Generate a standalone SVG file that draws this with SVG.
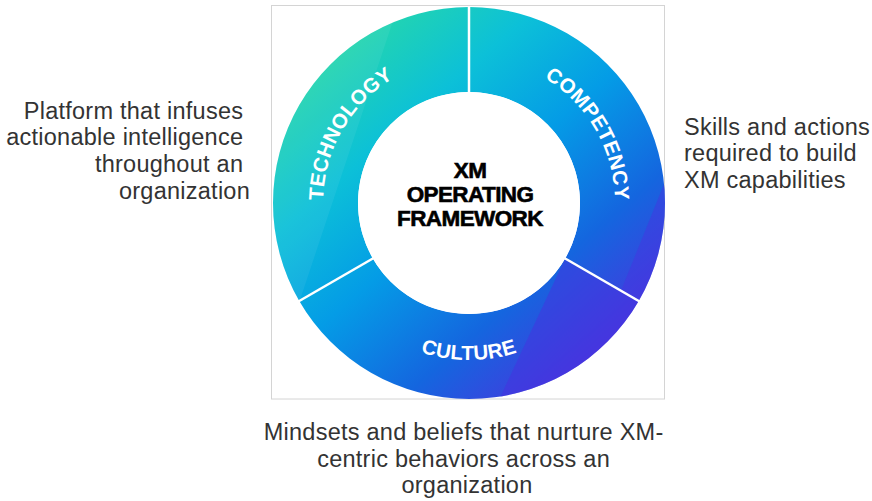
<svg xmlns="http://www.w3.org/2000/svg" width="872" height="501" viewBox="0 0 872 501">
  <defs>
    <style>
      .desc { font-family: "Liberation Sans", Arial, sans-serif; font-size: 23.5px; fill: #333333; letter-spacing: 0.25px; }
      .ring-label { font-family: "Liberation Sans", Arial, sans-serif; font-size: 20.5px; font-weight: bold; fill: #ffffff; letter-spacing: 0.3px; }
      .title { font-family: "Liberation Sans", Arial, sans-serif; font-size: 22.5px; font-weight: bold; fill: #000000; text-anchor: middle; letter-spacing: -0.6px; stroke: #000000; stroke-width: 0.6px; }
      .divider { stroke: #ffffff; stroke-width: 2.5; }
      .facet { fill: #4a2fe0; }
    </style>
    <linearGradient id="ringFill" gradientUnits="userSpaceOnUse" x1="300" y1="20" x2="620" y2="390">
      <stop offset="0" stop-color="#2fe09a"/>
      <stop offset="0.3" stop-color="#0cc0d8"/>
      <stop offset="0.5" stop-color="#049ce6"/>
      <stop offset="0.72" stop-color="#1466df"/>
      <stop offset="1" stop-color="#5a26de"/>
    </linearGradient>
    <!-- the annulus, used to keep the darker facets inside the wheel -->
    <clipPath id="ringClip">
      <path d="M469,7 A196,196 0 1 1 468.99,7 Z M469,92 A111,111 0 1 0 469.01,92 Z" clip-rule="evenodd"/>
    </clipPath>
    <!-- label baselines: clockwise arcs read with tops outward, the lower arc runs counter-clockwise -->
    <path id="arcTech" d="M342.56,276 A146,146 0 0 1 469,57"/>
    <path id="arcComp" d="M469,57 A146,146 0 0 1 595.44,276"/>
    <path id="arcCult" d="M333.03,281.5 A157,157 0 0 0 604.97,281.5"/>
  </defs>

  <rect width="872" height="501" fill="#ffffff"/>
  <!-- frame around the wheel -->
  <rect x="271.5" y="5.5" width="393" height="393.5" fill="none" stroke="#d4d4d4" stroke-width="1"/>

  <g id="technology">
    <path d="M299.26,301 A196,196 0 0 1 469,7 L469,92 A111,111 0 0 0 372.87,258.5 Z" fill="url(#ringFill)"/>
  </g>

  <g id="competency">
    <path d="M469,7 A196,196 0 0 1 638.74,301 L565.13,258.5 A111,111 0 0 0 469,92 Z" fill="url(#ringFill)"/>
  </g>

  <g id="culture">
    <path d="M638.74,301 A196,196 0 0 1 299.26,301 L372.87,258.5 A111,111 0 0 0 565.13,258.5 Z" fill="url(#ringFill)"/>
  </g>

  <!-- faceted shading on the purple side, each facet kept inside its own segment -->
  <g id="facets" clip-path="url(#ringClip)">
    <polygon class="facet" opacity="0.45" points="498,402 565.13,258.5 680,324.8 680,402"/>
    <polygon class="facet" opacity="0.4" points="664,184 621,290.8 680,324.8 680,184"/>
    <polygon fill="#ffffff" opacity="0.06" points="400,0 270,0 270,300 300,300"/>
  </g>

  <g id="labels">
    <text class="ring-label"><textPath href="#arcTech" startOffset="50%" text-anchor="middle">TECHNOLOGY</textPath></text>
    <text class="ring-label"><textPath href="#arcComp" startOffset="50%" text-anchor="middle">COMPETENCY</textPath></text>
    <text class="ring-label"><textPath href="#arcCult" startOffset="50%" text-anchor="middle">CULTURE</textPath></text>
  </g>

  <g id="connectors">
    <line class="divider" x1="469" y1="6" x2="469" y2="93"/>
    <line class="divider" x1="639.6" y1="301.5" x2="564.3" y2="258"/>
    <line class="divider" x1="298.4" y1="301.5" x2="373.7" y2="258"/>
  </g>

  <g id="framework">
    <circle cx="469" cy="203" r="111" fill="#ffffff"/>
    <text class="title" x="470" y="177.5">XM</text>
    <text class="title" x="470" y="201.5">OPERATING</text>
    <text class="title" x="470" y="225.5">FRAMEWORK</text>
  </g>

  <g id="technology-note">
    <text class="desc" text-anchor="end">
      <tspan x="250" y="118.5">Platform that infuses</tspan>
      <tspan x="250" y="145.2">actionable intelligence</tspan>
      <tspan x="250" y="171.9">throughout an</tspan>
      <tspan x="250" y="198.6">organization</tspan>
    </text>
  </g>

  <g id="competency-note">
    <text class="desc">
      <tspan x="684" y="134.5">Skills and actions</tspan>
      <tspan x="684" y="161.2">required to build</tspan>
      <tspan x="684" y="188">XM capabilities</tspan>
    </text>
  </g>

  <g id="culture-note">
    <text class="desc" text-anchor="middle">
      <tspan x="467" y="440">Mindsets and beliefs that nurture XM-</tspan>
      <tspan x="467" y="466.7">centric behaviors across an</tspan>
      <tspan x="467" y="493.4">organization</tspan>
    </text>
  </g>
</svg>
